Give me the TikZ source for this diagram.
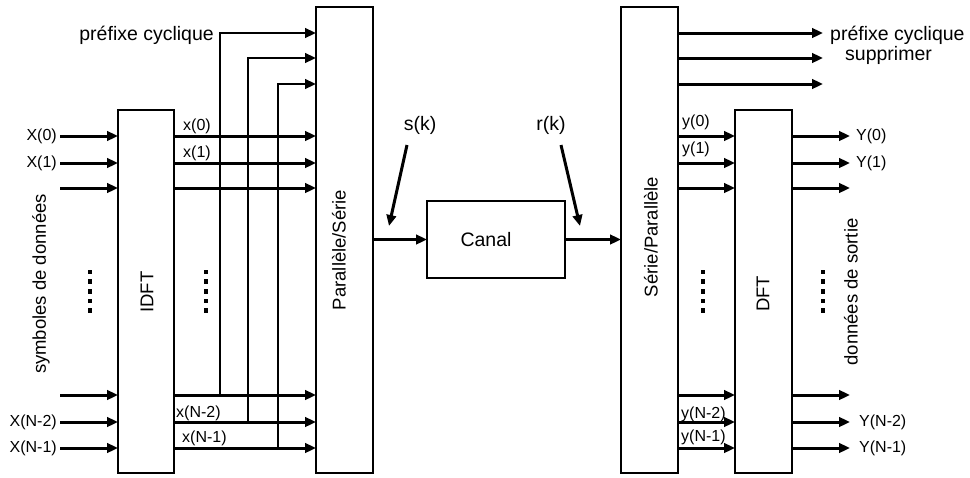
\documentclass[tikz,border=0pt]{standalone}
\usepackage{fontspec}
\setmainfont{Liberation Sans}
\usetikzlibrary{arrows.meta,calc}
\begin{document}
\begin{tikzpicture}[x=1pt,y=-1pt,
  box/.style={draw, line width=1.6pt, inner sep=0pt, outer sep=0pt},
  sig/.style={line width=3pt, -{Triangle[length=11pt,width=9.5pt]}},
  pre/.style={line width=2.6pt, -{Triangle[length=11pt,width=9.5pt]}},
  lbl/.style={font=\fontsize{16}{18}\selectfont, inner sep=0pt},
  big/.style={font=\fontsize{19.5}{22}\selectfont, inner sep=0pt},
  vlbl/.style={font=\fontsize{18.5}{20}\selectfont, rotate=90, inner sep=0pt}]
\useasboundingbox (0,0) rectangle (970,477);

% boxes
\node[box, minimum width=56pt, minimum height=363pt] (idft) at (146,291.5) {};
\node[box, minimum width=57pt, minimum height=466pt] (ps) at (344.5,240) {};
\node[box, minimum width=138pt, minimum height=77pt] (canal) at (496,239.5) {};
\node[box, minimum width=57pt, minimum height=466pt] (sp) at (649.5,240) {};
\node[box, minimum width=57pt, minimum height=363pt] (dft) at (763.5,291.5) {};

% box labels
\node[vlbl] (idftl) at (147,292) {IDFT};
\node[vlbl] (psl) at (339,250) {Parallèle/Série};
\node[big] (canall) at (486,240) {Canal};
\node[vlbl] (spl) at (651,237) {Série/Parallèle};
\node[vlbl] (dftl) at (763,294) {DFT};
\node[vlbl] (symb) at (41,284) {symboles de données};
\node[vlbl] (sortie) at (851,292) {données de sortie};

% rows
\foreach \r/\y in {a/136,b/163,c/188,d/395,e/422,f/448}{
  \coordinate (row\r) at (0,\y);
  \coordinate (in\r) at (60,\y);
  \coordinate (out\r) at (850,\y);
}
\foreach \r in {a,b,c,d,e,f}{
  \draw[sig] (in\r) -- (idft.west |- row\r);
  \draw[sig] (idft.east |- row\r) -- (ps.west |- row\r);
  \draw[sig] (sp.east |- row\r) -- (dft.west |- row\r);
  \draw[sig] (dft.east |- row\r) -- (out\r);
}

% cyclic prefix (transmitter)
\coordinate (pj1) at (220,395);
\coordinate (pj2) at (248,422);
\coordinate (pj3) at (278,448);
\coordinate (prow1) at (0,33);
\coordinate (prow2) at (0,58);
\coordinate (prow3) at (0,84);
\draw[pre] (pj1) |- (ps.west |- prow1);
\draw[pre] (pj2) |- (ps.west |- prow2);
\draw[pre] (pj3) |- (ps.west |- prow3);
\node[big, anchor=base east] (pcl) at (214,40) {préfixe cyclique};

% cyclic prefix removal (receiver)
\coordinate (rp1) at (823,33);
\coordinate (rp2) at (823,58);
\coordinate (rp3) at (823,84);
\draw[sig] (sp.east |- prow1) -- (rp1);
\draw[sig] (sp.east |- prow2) -- (rp2);
\draw[sig] (sp.east |- prow3) -- (rp3);
\node[big, anchor=base west] (pcr) at (830,40) {préfixe cyclique};
\node[big, anchor=base west] (supp) at (845,60) {supprimer};

% channel
\draw[sig] (ps.east |- canal) -- (canal.west);
\draw[sig] (canal.east) -- (sp.west |- canal);
\node[big] (sk) at (420,125) {s(k)};
\node[big] (rk) at (551,125) {r(k)};
\coordinate (sks) at (407,145);
\coordinate (ske) at (389,226);
\coordinate (rks) at (561,145);
\coordinate (rke) at (580,226);
\draw[sig] (sks) -- (ske);
\draw[sig] (rks) -- (rke);

% index labels
\node[lbl, anchor=east] (X0) at (57,136) {X(0)};
\node[lbl, anchor=east] (X1) at (57,163) {X(1)};
\node[lbl, anchor=east] (XN2) at (57,422) {X(N-2)};
\node[lbl, anchor=east] (XN1) at (57,448) {X(N-1)};
\node[lbl, anchor=base west] (x0) at (183,130) {x(0)};
\node[lbl, anchor=base west] (x1) at (183,157) {x(1)};
\node[lbl, anchor=base west] (xN2) at (176,417) {x(N-2)};
\node[lbl, anchor=base west] (xN1) at (182,442) {x(N-1)};
\node[lbl, anchor=base west] (y0) at (682,126) {y(0)};
\node[lbl, anchor=base west] (y1) at (682,153) {y(1)};
\node[lbl, anchor=base west] (yN2) at (681,418) {y(N-2)};
\node[lbl, anchor=base west] (yN1) at (681,441) {y(N-1)};
\node[lbl, anchor=west] (Y0) at (856,136) {Y(0)};
\node[lbl, anchor=west] (Y1) at (856,163) {Y(1)};
\node[lbl, anchor=west] (YN2) at (859,422) {Y(N-2)};
\node[lbl, anchor=west] (YN1) at (859,448) {Y(N-1)};

% dots
\foreach \x in {90,206,703,823}{
  \foreach \d in {0,...,4}{
    \fill (\x-2.3,272+\d*9.6-2.3) rectangle (\x+2.3,272+\d*9.6+2.3);
  }
}
\end{tikzpicture}
\end{document}
